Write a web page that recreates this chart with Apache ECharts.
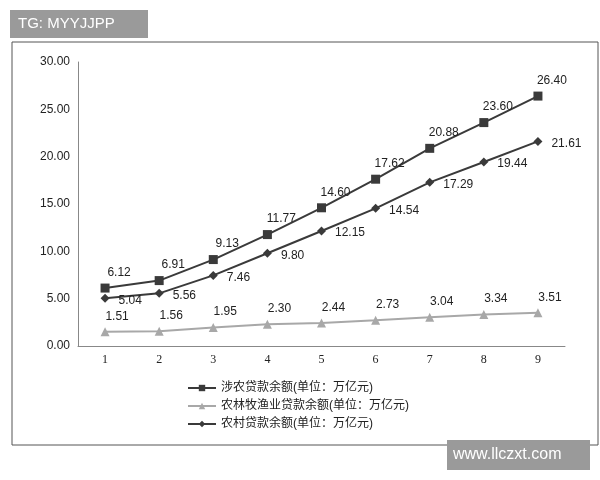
<!DOCTYPE html>
<html><head><meta charset="utf-8">
<script src="https://cdn.jsdelivr.net/npm/echarts@6/dist/echarts.min.js"></script>
<style>body{margin:0;background:#fff}#c{width:600px;height:480px}</style>
</head><body><div id="c"></div>
<script>
const categories = ['1', '2', '3', '4', '5', '6', '7', '8', '9'];
const agriLoans = [6.12, 6.91, 9.13, 11.77, 14.60, 17.62, 20.88, 23.60, 26.40];
const farmLoans = [1.51, 1.56, 1.95, 2.30, 2.44, 2.73, 3.04, 3.34, 3.51];
const ruralLoans = [5.04, 5.56, 7.46, 9.80, 12.15, 14.54, 17.29, 19.44, 21.61];
const names = ['涉农贷款余额(单位：万亿元)', '农林牧渔业贷款余额(单位：万亿元)', '农村贷款余额(单位：万亿元)'];

const chart = echarts.init(document.getElementById('c'));
const lbl = (pos) => ({show: true, position: pos, color: '#222', fontSize: 12, formatter: (p) => p.value.toFixed(2)});
chart.setOption({
    textStyle: {fontFamily: 'Liberation Sans, Noto Sans CJK SC'},
    graphic: [
        {type: 'rect', shape: {x: 12, y: 42, width: 586, height: 403}, style: {fill: 'none', stroke: '#555', lineWidth: 1}},
        {type: 'rect', shape: {x: 10, y: 10, width: 138, height: 28}, style: {fill: '#9a9a9a'}},
        {type: 'text', x: 18, y: 16, style: {text: 'TG: MYYJJPP', fill: '#fff', font: '15px Liberation Sans'}},
        {type: 'rect', shape: {x: 447, y: 440, width: 143, height: 30}, style: {fill: '#9a9a9a'}, z: 10},
        {type: 'text', x: 453, y: 447, style: {text: 'www.llczxt.com', fill: '#fff', font: '16px Liberation Sans'}, z: 11},
    ],
    grid: {left: 78, right: 35, top: 62, bottom: 134},
    legend: {
        orient: 'vertical', left: 182, top: 377, itemGap: 6, itemWidth: 28, itemHeight: 8,
        textStyle: {fontSize: 12, color: '#222'},
    },
    xAxis: {
        type: 'category', data: categories,
        axisLine: {lineStyle: {color: '#888'}}, axisTick: {show: false},
        axisLabel: {color: '#222', fontSize: 12, fontFamily: 'Liberation Serif'},
    },
    yAxis: {
        type: 'value', min: 0, max: 30, interval: 5,
        axisLine: {show: true, lineStyle: {color: '#888'}},
        splitLine: {show: false},
        axisLabel: {color: '#222', fontSize: 12, formatter: (v) => v.toFixed(2)},
    },
    series: [
        {name: names[0], type: 'line', data: agriLoans, symbol: 'rect', symbolSize: 9,
            lineStyle: {color: '#3a3a3a', width: 2}, itemStyle: {color: '#3a3a3a'},
            label: {...lbl('top'), offset: [14, 0]}},
        {name: names[1], type: 'line', data: farmLoans, symbol: 'triangle', symbolSize: 9,
            lineStyle: {color: '#a8a8a8', width: 2}, itemStyle: {color: '#a8a8a8'},
            label: {...lbl('top'), offset: [12, 0]}},
        {name: names[2], type: 'line', data: ruralLoans, symbol: 'diamond', symbolSize: 9,
            lineStyle: {color: '#3a3a3a', width: 2}, itemStyle: {color: '#3a3a3a'},
            label: {...lbl('right'), offset: [4, 2]}},
    ],
});
</script></body></html>
